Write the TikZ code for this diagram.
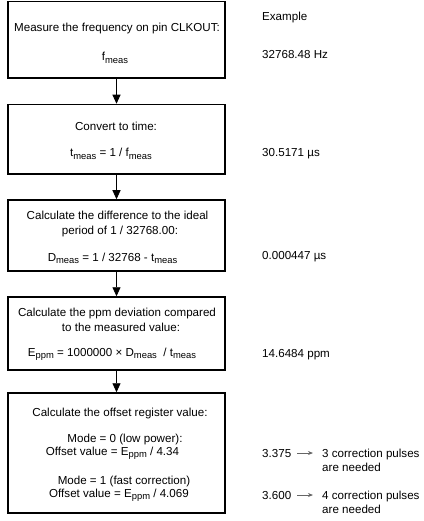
\documentclass[tikz,border=0pt]{standalone}
\usepackage{fontspec}
\setmainfont{Liberation Sans}
\usetikzlibrary{arrows.meta}
\newcommand{\lo}[1]{\raisebox{-2.6pt}{\fontsize{9.4}{10}\selectfont #1}}
\tikzset{
  box/.style={draw,line width=1.5pt,minimum width=217pt,inner sep=0pt},
  txt/.style={anchor=base,inner sep=0pt},
  val/.style={anchor=base west,inner sep=0pt},
  flow/.style={->,>={Triangle[width=8pt,length=9pt]},line width=0.9pt},
  pulse/.style={->,>={Stealth[width=4pt,length=5pt]},draw=black!60,line width=0.9pt,shorten <=6pt,shorten >=9pt}
}
\begin{document}
\begin{tikzpicture}[x=1pt,y=-1pt,font=\fontsize{11.6}{14}\selectfont]
	\useasboundingbox (0,0) rectangle (423,521);
	% the five steps
	\node[box,minimum height=76.5pt] (b1) at (116.5,39.75) {};
	\node[box,minimum height=69.5pt] (b2) at (116.5,139.25) {};
	\node[box,minimum height=71pt] (b3) at (116.5,235.5) {};
	\node[box,minimum height=73pt] (b4) at (116.5,333.5) {};
	\node[box,minimum height=120pt] (b5) at (116.5,453) {};
	\draw[flow] (b1.south) -- (b2.north);
	\draw[flow] (b2.south) -- (b3.north);
	\draw[flow] (b3.south) -- (b4.north);
	\draw[flow] (b4.south) -- (b5.north);
	% texts in the boxes
	\node[txt] (t1a) at (117,32) {Measure the frequency on pin CLKOUT:};
	\node[txt] (t1b) at (115,61) {f\lo{meas}};
	\node[txt] (t2a) at (116,131) {Convert to time:};
	\node[txt] (t2b) at (111,157) {t\lo{meas} = 1 / f\lo{meas}};
	\node[txt] (t3a) at (117.5,219) {Calculate the difference to the ideal};
	\node[txt] (t3b) at (120,234) {period of 1 / 32768.00:};
	\node[txt] (t3c) at (112.5,261) {D\lo{meas} = 1 / 32768 - t\lo{meas}};
	\node[txt] (t4a) at (117,316) {Calculate the ppm deviation compared};
	\node[txt] (t4b) at (121,331) {to the measured value:};
	\node[txt] (t4c) at (112,356) {E\lo{ppm} = 1000000 × D\lo{meas} \ / t\lo{meas}};
	\node[txt] (t5a) at (120,416) {Calculate the offset register value:};
	\node[txt] (t5b) at (125,442) {Mode = 0 (low power):};
	\node[txt] (t5c) at (112.5,455) {Offset value = E\lo{ppm} / 4.34};
	\node[txt] (t5d) at (124,484) {Mode = 1 (fast correction)};
	\node[txt] (t5e) at (119,497) {Offset value = E\lo{ppm} / 4.069};
	% example column
	\node[val] (e0) at (262,21) {Example};
	\node[val] (e1) at (262,59) {32768.48 Hz};
	\node[val] (e2) at (262,157) {30.5171 µs};
	\node[val] (e3) at (262,259) {0.000447 µs};
	\node[val] (e4) at (262,357) {14.6484 ppm};
	\node[val] (e5) at (262,457) {3.375};
	\node[val] (p5) at (322,457) {3 correction pulses};
	\node[val] (n5) at (322,471) {are needed};
	\node[val] (e6) at (262,499) {3.600};
	\node[val] (p6) at (322,499) {4 correction pulses};
	\node[val] (n6) at (322,513) {are needed};
	\draw[pulse] (e5.east) -- (e5.east -| p5.west);
	\draw[pulse] (e6.east) -- (e6.east -| p6.west);
\end{tikzpicture}
\end{document}
